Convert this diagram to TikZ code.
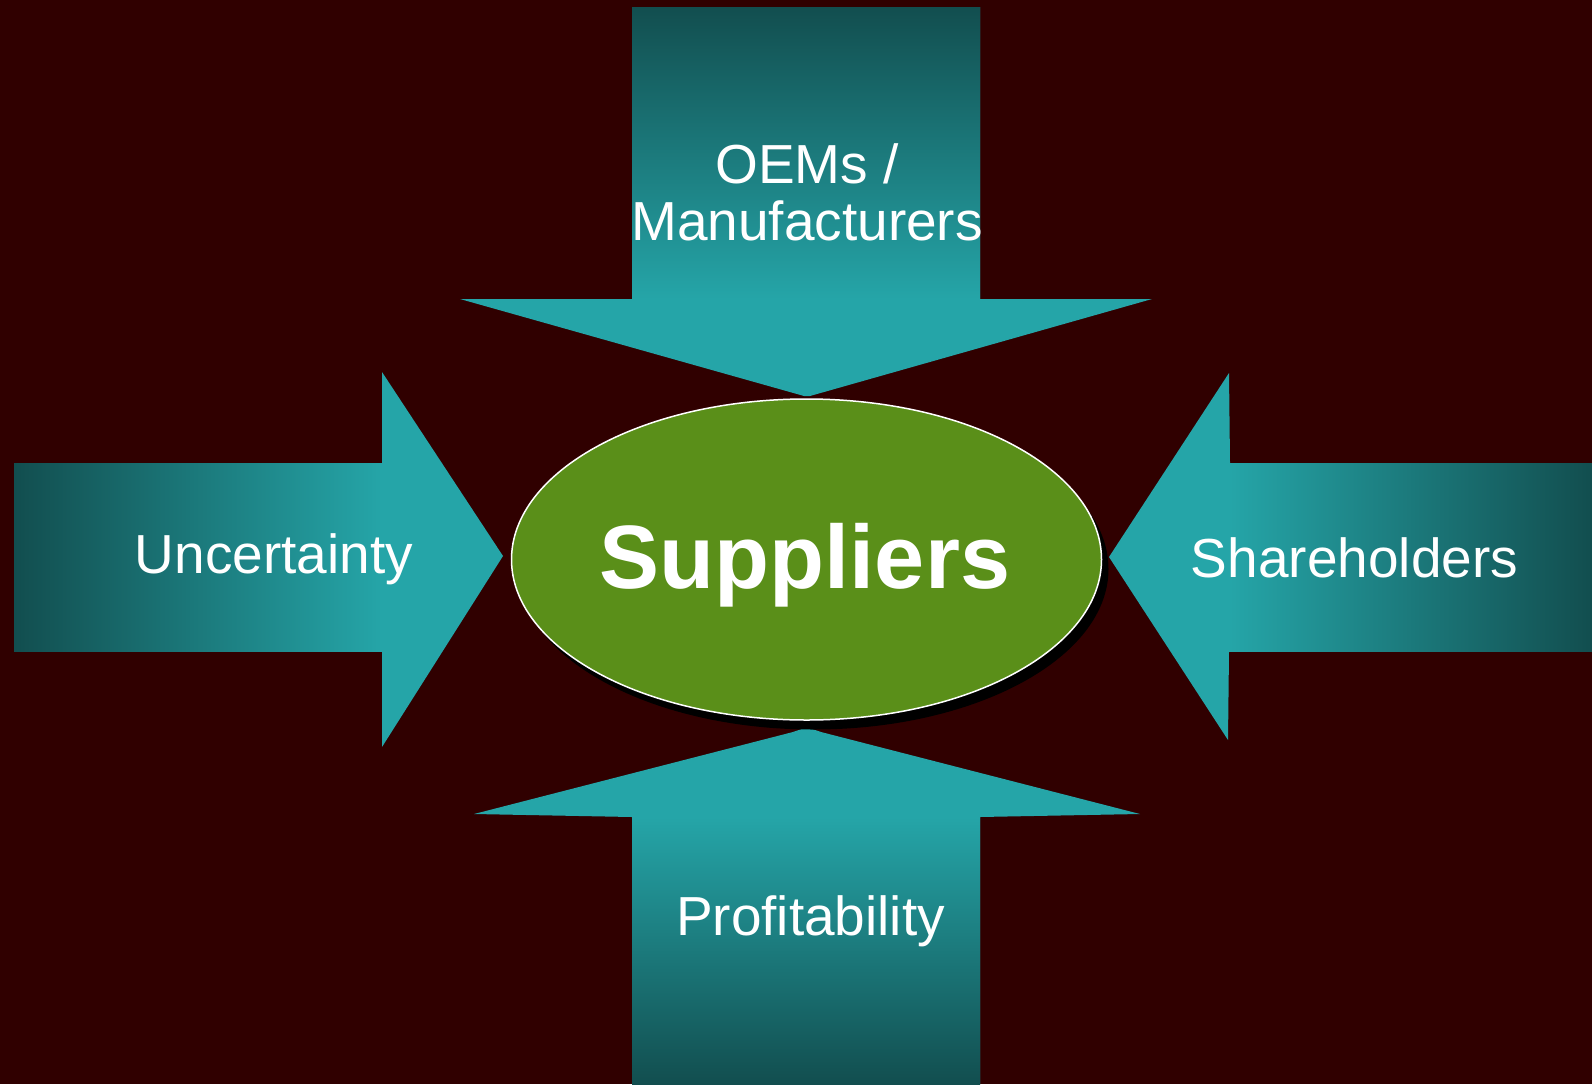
\documentclass[tikz,border=0pt]{standalone}
\usepackage{fontspec}
\setmainfont{Liberation Sans}
\usetikzlibrary{shapes.geometric}
\definecolor{bgred}{RGB}{48,0,0}
\definecolor{tealL}{RGB}{37,165,168}
\definecolor{tealD}{RGB}{18,78,79}
\definecolor{supgreen}{RGB}{90,143,25}
\tikzset{
  arrowhead/.style={fill=tealL, draw=none},
  lbl/.style={text=white, font=\fontsize{55}{57}\selectfont, anchor=base, inner sep=0pt, align=center},
  bigoval/.style={ellipse, minimum width=590pt, minimum height=321pt, inner sep=0pt},
}
\begin{document}
\begin{tikzpicture}[x=1pt, y=-1pt]
\useasboundingbox (0,0) rectangle (1592,1084);
\fill[bgred] (0,0) rectangle (1592,1084);
% top arrow
\fill[arrowhead] (632,7) -- (980,7) -- (980,299) -- (1152,299) -- (810,396) -- (804,396) -- (460,299) -- (632,299) -- cycle;
\shade[top color=tealD, bottom color=tealL] (632,7) rectangle (980,299);
% left arrow
\fill[arrowhead] (14,463) -- (382,463) -- (382,372) -- (503,556) -- (382,747) -- (382,651) -- (14,651) -- cycle;
\shade[left color=tealD, right color=tealL] (14,463) rectangle (382,651);
% right arrow
\fill[arrowhead] (1592,463) -- (1230,463) -- (1229,373) -- (1109,557) -- (1228,740) -- (1229,651) -- (1592,651) -- cycle;
\shade[left color=tealL, right color=tealD] (1229,463) rectangle (1592,651);
% bottom arrow
\fill[arrowhead] (632,1084) -- (632,817) -- (474,814) -- (793,732) .. controls (807,727) .. (821,732) -- (1140,814) -- (980,817) -- (980,1084) -- cycle;
\shade[top color=tealL, bottom color=tealD] (632,817) rectangle (980,1084);
% central oval
\node[bigoval, fill=black] (supshadow) at (813.5,569) {};
\node[bigoval, fill=supgreen, draw=white, line width=1.5pt] (sup) at (806.5,559.5) {};
\node[lbl, font=\fontsize{90}{91}\selectfont\bfseries] (suptext) at (805,588) {Suppliers};
% labels
\node[lbl] (oems) at (807,183) {OEMs /};
\node[lbl] (manu) at (807,240) {Manufacturers};
\node[lbl] (unc) at (274,573) {Uncertainty};
\node[lbl] (share) at (1354.5,577) {Shareholders};
\node[lbl] (prof) at (810.5,935) {Profitability};
\end{tikzpicture}
\end{document}
